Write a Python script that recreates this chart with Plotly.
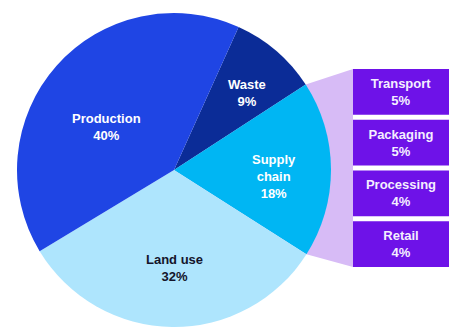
import math
import plotly.graph_objects as go

# Emissions split (share of total, %)
slice_labels = ["Waste", "Supply chain", "Land use", "Production"]
slice_values = [9, 18, 32, 40]
slice_colors = ["#0B2C97", "#00B6F3", "#AEE5FD", "#1F45E4"]
slice_text_colors = ["#FFFFFF", "#FFFFFF", "#14142B", "#FFFFFF"]
slice_text = ["Waste", "Supply<br>chain", "Land use", "Production"]

# Supply chain breakdown (%)
sub_labels = ["Transport", "Packaging", "Processing", "Retail"]
sub_values = [5, 5, 4, 4]

W, H = 456, 327
FONT = "Liberation Sans, Arial, Helvetica, sans-serif"

# pie geometry (pixels)
cx, cy, r = 174, 170, 157
start_deg = 24.3
pie_dom_x = [(cx - r) / W, (cx + r) / W]
pie_dom_y = [0, (2 * r) / H]

# box column geometry (pixels)
box_left, box_right = 353, 449
box_top, box_bottom = 66.5, 269.5


def px(x):
    return x / W


def py(y):
    return 1 - y / H


fig = go.Figure()

fig.add_trace(go.Pie(
    labels=slice_labels,
    values=slice_values,
    sort=False,
    direction="clockwise",
    rotation=start_deg,
    marker=dict(colors=slice_colors, line=dict(width=0)),
    textinfo="none",
    hoverinfo="skip",
    showlegend=False,
    domain=dict(x=pie_dom_x, y=pie_dom_y),
))

# slice boundary angles
total = sum(slice_values)
bounds = [start_deg]
for v in slice_values:
    bounds.append(bounds[-1] + v / total * 360)


def on_circle(angle_deg, frac=1.0):
    a = math.radians(angle_deg)
    return cx + frac * r * math.sin(a), cy - frac * r * math.cos(a)


# label placement: radial fraction and angular nudge per slice
label_frac = [0.675, 0.64, 0.625, 0.51]
label_nudge = [3, 4, -1, -9]
annotations = []
for i, (lab, val) in enumerate(zip(slice_text, slice_values)):
    mid = (bounds[i] + bounds[i + 1]) / 2 + label_nudge[i]
    x, y = on_circle(mid, label_frac[i])
    annotations.append(dict(
        x=px(x), y=py(y), xref="paper", yref="paper",
        xanchor="center", yanchor="middle", showarrow=False,
        text=f"<b>{lab}<br>{val}%</b>",
        font=dict(family=FONT, size=13, color=slice_text_colors[i]),
    ))

# connector from the supply chain slice to the breakdown boxes
sc = slice_labels.index("Supply chain")
p_top = on_circle(bounds[sc])
p_bot = on_circle(bounds[sc + 1])
gap_half = 2.5
path = (
    f"M {px(p_top[0])},{py(p_top[1])} "
    f"L {px(box_left)},{py(box_top + gap_half)} "
    f"L {px(box_left)},{py(box_bottom - gap_half)} "
    f"L {px(p_bot[0])},{py(p_bot[1])} "
    f"L {px(cx)},{py(cy)} Z"
)

# equal-size boxes, one per supply chain component
fig.add_trace(go.Bar(
    y=sub_labels,
    x=[1] * len(sub_labels),
    orientation="h",
    marker=dict(color="#6E12E8", line=dict(width=0)),
    text=[f"<b>{l}<br>{v}%</b>" for l, v in zip(sub_labels, sub_values)],
    textposition="inside",
    insidetextanchor="middle",
    textangle=0,
    constraintext="none",
    textfont=dict(family=FONT, size=13, color="#F4EEFF"),
    hoverinfo="skip",
    showlegend=False,
    xaxis="x", yaxis="y",
))

fig.update_layout(
    width=W, height=H,
    margin=dict(l=0, r=0, t=0, b=0),
    paper_bgcolor="white",
    plot_bgcolor="rgba(0,0,0,0)",
    bargap=0.1,
    xaxis=dict(domain=[px(box_left), px(box_right)], range=[0, 1],
               visible=False, fixedrange=True),
    yaxis=dict(domain=[py(box_bottom), py(box_top)], autorange="reversed",
               visible=False, fixedrange=True),
    shapes=[dict(type="path", path=path, xref="paper", yref="paper",
                 fillcolor="#D7BBF6", line=dict(width=0), layer="below")],
    annotations=annotations,
)

fig.write_html("out.html")
